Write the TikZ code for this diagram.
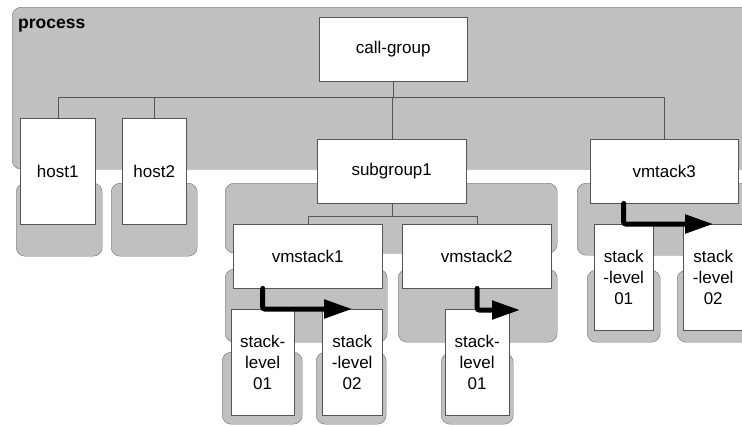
\documentclass[tikz,border=0pt]{standalone}
\usepackage{fontspec}
\setmainfont{Liberation Sans}
\usetikzlibrary{arrows.meta}
\definecolor{grpfill}{HTML}{C0C0C0}
\definecolor{grpline}{HTML}{707070}
\definecolor{boxline}{HTML}{555555}
\tikzset{
  grp/.style={draw=grpline, fill=grpfill, rounded corners=9pt, inner sep=0pt, anchor=north west},
  unit/.style={draw=boxline, fill=white, inner sep=0pt, anchor=north west, align=center,
    font=\fontsize{17}{21}\selectfont},
  tree/.style={draw=boxline},
  flow/.style={line width=5pt, line cap=round, rounded corners=2pt,
    -{Triangle[length=28pt,width=18pt]}}
}
\begin{document}
\begin{tikzpicture}[x=1pt,y=-1pt]
\useasboundingbox (0,0) rectangle (742,426);
\clip (0,0) rectangle (742,426);

% groups
\foreach \n/\x/\y/\w/\h in {pc/12/7/760/162, h1c/16/183/86/73, h2c/111/183/86/73,
  sgc/225/183/332/70, v3c/577/183/200/72, v1c/225/269/162/73, v2c/398/269/159/73,
  s11c/222/352/80/72, s12c/316/352/70/72, s21c/441/353/72/71,
  s31c/587/270/73/72, s32c/677/270/80/72}
	\node[grp, minimum width=\w pt, minimum height=\h pt] (\n) at (\x,\y) {};
\node[anchor=base west, inner sep=0pt, font=\fontsize{17.5}{21}\selectfont\bfseries] (ptitle) at (18,28) {process};

% units
\foreach \n/\x/\y/\w/\h/\t in {cg/319/17/148/64/call-group, h1/20/118/75/106/host1,
  h2/122/118/64/106/host2, sg/317/139/149/64/subgroup1, v3/590/139/148/64/vmtack3,
  v1/233/224/149/64/vmstack1, v2/402/224/149/64/vmstack2,
  s11/231/309/63/106/{stack-\\level\\01}, s12/322/309/60/106/{stack\\-level\\02},
  s21/445/309/64/106/{stack-\\level\\01},
  s31/594/224/59/106/{stack\\-level\\01}, s32/683/224/60/106/{stack\\-level\\02}}
	\node[unit, minimum width=\w pt, minimum height=\h pt] (\n) at (\x,\y) {\t};

% tree lines
\coordinate (bus) at (0,97);
\coordinate (sbus) at (0,216);
\draw[tree] (cg.south) -- (cg.south |- bus);
\draw[tree] (h1.north) |- (v3.north |- bus) -- (v3.north);
\foreach \n in {h2,sg}
	\draw[tree] (\n.north) -- (\n.north |- bus);
\draw[tree] (sg.south) -- (sg.south |- sbus);
\draw[tree] (v1.north) |- (v2.north |- sbus) -- (v2.north);

% flows
\coordinate (t21) at (520,310);
\draw[flow] (s11 |- v1.south) |- (s12.north);
\draw[flow] (s21 |- v2.south) |- (t21);
\draw[flow] (s31 |- v3.south) |- (s32.north);
\end{tikzpicture}
\end{document}
